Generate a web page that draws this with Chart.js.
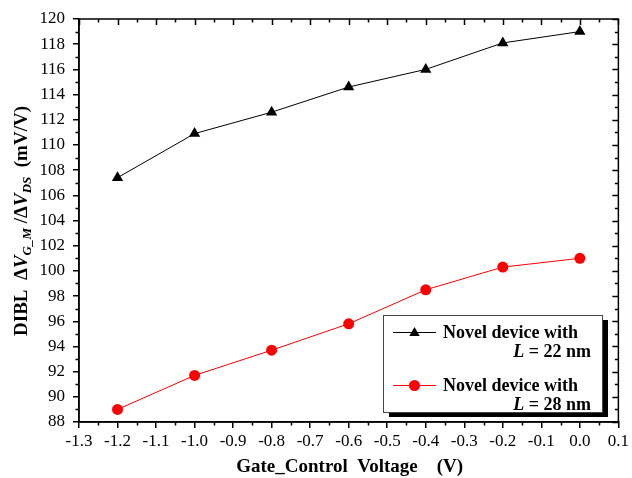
<!DOCTYPE html>
<html>
<head>
<meta charset="utf-8">
<script src="https://cdn.jsdelivr.net/npm/chart.js@4/dist/chart.umd.min.js"></script>
<style>
  html, body { margin: 0; padding: 0; background: #fff; }
  #wrap { width: 632px; height: 478px; }
</style>
</head>
<body>
<div id="wrap"><canvas id="c" width="632" height="478"></canvas></div>
<script>
// Gate_Control voltage sweep (V)
const gateVoltage = [-1.2, -1.0, -0.8, -0.6, -0.4, -0.2, 0.0];
// DIBL (mV/V) for the two gate lengths
const dibl22nm = [107.4, 110.9, 112.6, 114.6, 116.0, 118.1, 119.0];
const dibl28nm = [89.0, 91.7, 93.7, 95.8, 98.5, 100.3, 101.0];
// legend entries: first line, gate length value
const legendLines = ['Novel device with', 'Novel device with'];
const legendLengths = ['22 nm', '28 nm'];
// axis ranges
const xRange = [-1.3, 0.1];
const yRange = [88, 120];

const SERIF = '"Liberation Serif", "Times New Roman", serif';

function toPoints(xs, ys) { return xs.map((x, i) => ({ x: x, y: ys[i] })); }

// minor ticks, mirrored ticks on top/right, full frame
const frameTicks = {
  id: 'frameTicks',
  afterDraw(chart) {
    const { ctx, chartArea: a, scales: { x, y } } = chart;
    ctx.save();
    ctx.strokeStyle = '#000';
    ctx.lineWidth = 1.5;
    ctx.beginPath();
    // x direction: every 0.05
    for (let k = 0; k <= 28; k++) {
      const v = xRange[0] + k * 0.05;
      const px = Math.round(x.getPixelForValue(v)) + 0.5;
      const major = k % 2 === 0;
      const len = major ? 6 : 3.5;
      if (!major) { ctx.moveTo(px, a.bottom); ctx.lineTo(px, a.bottom + len); }
      ctx.moveTo(px, a.top); ctx.lineTo(px, a.top + len);
    }
    // y direction: every 1
    for (let v = yRange[0]; v <= yRange[1]; v++) {
      const py = Math.round(y.getPixelForValue(v)) + 0.5;
      const major = v % 2 === 0;
      const len = major ? 6 : 3.5;
      if (!major) { ctx.moveTo(a.left, py); ctx.lineTo(a.left - len, py); }
      ctx.moveTo(a.right, py); ctx.lineTo(a.right - len, py);
    }
    ctx.stroke();
    ctx.strokeRect(a.left, a.top, a.right - a.left, a.bottom - a.top);
    ctx.restore();
  }
};

// draw a sequence of [text, font, dy] runs starting at (x0, y0)
function drawRuns(ctx, runs, x0, y0) {
  let xx = x0;
  for (const [t, f, dy] of runs) {
    ctx.font = f;
    ctx.fillText(t, xx, y0 + (dy || 0));
    xx += ctx.measureText(t).width;
  }
}
function runsWidth(ctx, runs) {
  let w = 0;
  for (const [t, f] of runs) { ctx.font = f; w += ctx.measureText(t).width; }
  return w;
}

const titlesAndLegend = {
  id: 'titlesAndLegend',
  afterDraw(chart) {
    const { ctx, chartArea: a } = chart;
    const B = 'bold 19px ' + SERIF;
    const BI = 'italic bold 19px ' + SERIF;
    const SUB = 'italic bold 13px ' + SERIF;
    ctx.save();
    ctx.fillStyle = '#000';
    ctx.textBaseline = 'alphabetic';

    // y axis title (rotated)
    const yRuns = [
      ['DIBL  \u0394', B, 0], ['V', BI, 0], ['G_M', SUB, 4],
      [' /\u0394', B, 0], ['V', BI, 0], ['DS', SUB, 4], ['  (mV/V)', B, 0]
    ];
    const wy = runsWidth(ctx, yRuns);
    ctx.translate(27, 221);
    ctx.rotate(-Math.PI / 2);
    drawRuns(ctx, yRuns, -wy / 2, 0);
    ctx.setTransform(1, 0, 0, 1, 0, 0);

    // x axis title
    ctx.font = B;
    ctx.textAlign = 'center';
    ctx.fillText('Gate_Control  Voltage    (V)', (a.left + a.right) / 2 + 1, 472);
    ctx.textAlign = 'left';

    // legend box with drop shadow
    const lx = 383, ly = 315, lw = 219, lh = 97;
    ctx.fillStyle = '#000';
    ctx.fillRect(lx + 6, ly + 5, lw, lh);
    ctx.fillStyle = '#fff';
    ctx.fillRect(lx, ly, lw, lh);
    ctx.strokeStyle = '#444';
    ctx.lineWidth = 1;
    ctx.strokeRect(lx + 0.5, ly + 0.5, lw, lh);

    const LB = 'bold 18px ' + SERIF;
    const LBI = 'italic bold 18px ' + SERIF;
    const entries = [
      { color: '#000', marker: 'triangle', y: 332 },
      { color: '#ff0000', marker: 'circle', y: 385 }
    ];
    entries.forEach((e, i) => {
      ctx.strokeStyle = e.color;
      ctx.lineWidth = 1;
      ctx.beginPath();
      ctx.moveTo(393, e.y + 0.5); ctx.lineTo(436, e.y + 0.5);
      ctx.stroke();
      ctx.fillStyle = e.color;
      ctx.beginPath();
      if (e.marker === 'triangle') {
        const r = 6, cx = 414.5, cy = e.y + 1;
        ctx.moveTo(cx, cy - r);
        ctx.lineTo(cx + r * 0.866, cy + r / 2);
        ctx.lineTo(cx - r * 0.866, cy + r / 2);
        ctx.closePath();
      } else {
        ctx.arc(414.5, e.y + 0.5, 5.5, 0, Math.PI * 2);
      }
      ctx.fill();
      ctx.fillStyle = '#000';
      ctx.textBaseline = 'middle';
      ctx.font = LB;
      ctx.fillText(legendLines[i], 443, e.y + 1);
      const runs = [['L', LBI, 0], [' = ' + legendLengths[i], LB, 0]];
      const w = runsWidth(ctx, runs);
      drawRuns(ctx, runs, 591 - w, e.y + 20);
    });
    ctx.restore();
  }
};

new Chart(document.getElementById('c'), {
  type: 'scatter',
  data: {
    datasets: [
      {
        label: 'L = 22 nm',
        data: toPoints(gateVoltage, dibl22nm),
        showLine: true,
        borderColor: '#000',
        borderWidth: 1,
        backgroundColor: '#000',
        pointStyle: 'triangle',
        pointRadius: 6.5,
        pointBorderWidth: 0,
        clip: false
      },
      {
        label: 'L = 28 nm',
        data: toPoints(gateVoltage, dibl28nm),
        showLine: true,
        borderColor: '#ff0000',
        borderWidth: 1,
        backgroundColor: '#ff0000',
        pointStyle: 'circle',
        pointRadius: 5.5,
        pointBorderWidth: 0,
        clip: false
      }
    ]
  },
  options: {
    responsive: false,
    animation: false,
    devicePixelRatio: 1,
    layout: { padding: { left: 0, right: 10, top: 19, bottom: 0 } },
    plugins: { legend: { display: false }, tooltip: { enabled: false } },
    scales: {
      x: {
        type: 'linear',
        min: xRange[0],
        max: xRange[1],
        afterFit(s) { s.height = 56; },
        ticks: {
          stepSize: 0.1,
          color: '#000',
          padding: 3,
          maxRotation: 0,
          autoSkip: false,
          font: { family: SERIF, size: 17 },
          callback: v => (Math.abs(v) < 1e-9 ? 0 : v).toFixed(1)
        },
        grid: { drawOnChartArea: false, drawTicks: true, tickLength: 6, color: '#000', lineWidth: 1.5 },
        border: { display: true, color: '#000', width: 1.5 }
      },
      y: {
        type: 'linear',
        min: yRange[0],
        max: yRange[1],
        afterFit(s) { s.width = 79; },
        ticks: {
          stepSize: 2,
          color: '#000',
          padding: 8,
          font: { family: SERIF, size: 17 }
        },
        grid: { drawOnChartArea: false, drawTicks: true, tickLength: 6, color: '#000', lineWidth: 1.5 },
        border: { display: true, color: '#000', width: 1.5 }
      }
    }
  },
  plugins: [frameTicks, titlesAndLegend]
});
</script>
</body>
</html>
